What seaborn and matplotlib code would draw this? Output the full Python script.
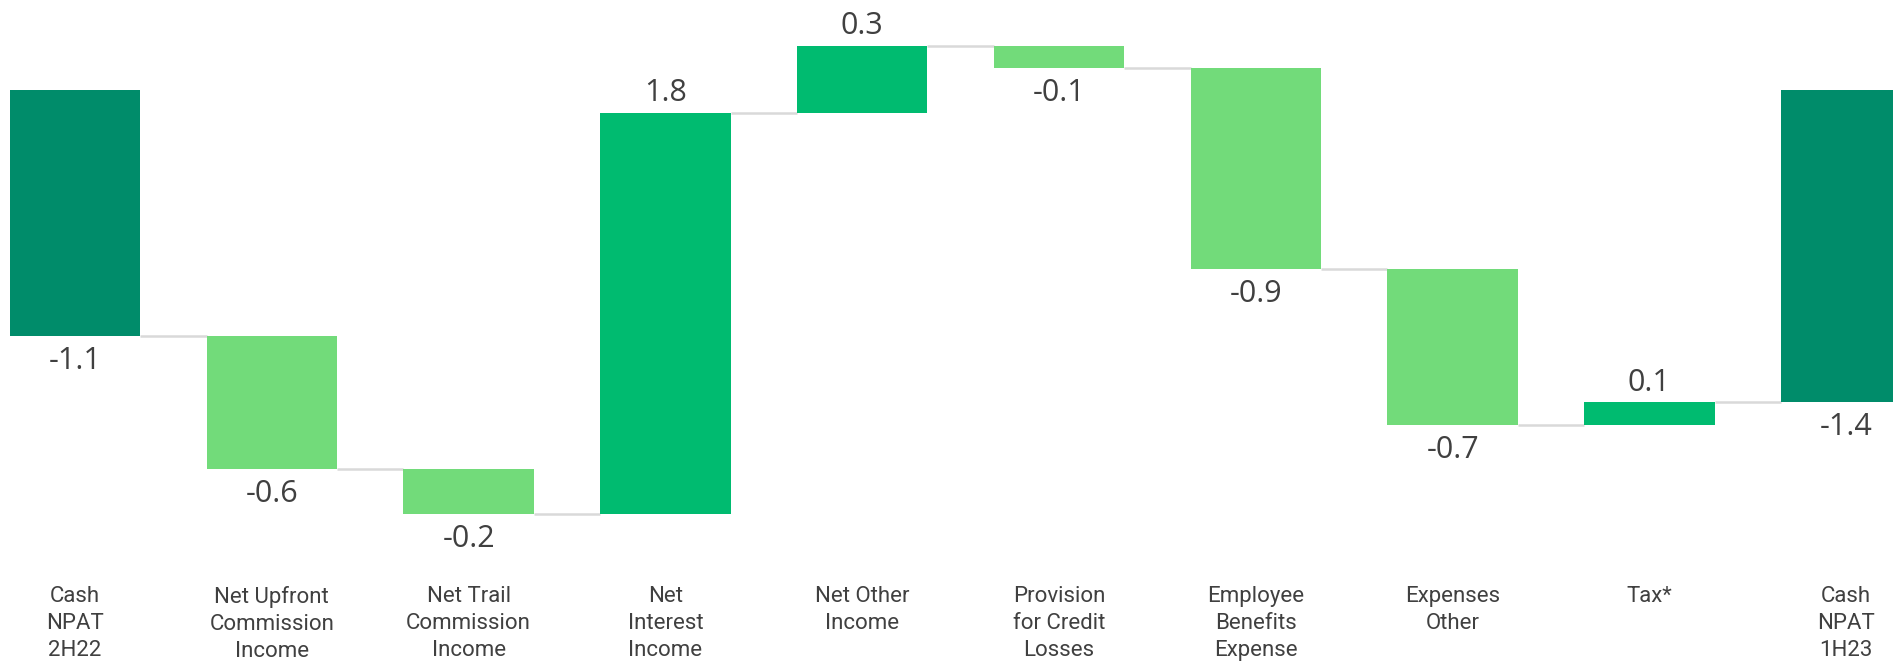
import numpy as np
import matplotlib
matplotlib.use("Agg")
import matplotlib.pyplot as plt
import seaborn as sns

categories = [
    "Cash\nNPAT\n2H22",
    "Net Upfront\nCommission\nIncome",
    "Net Trail\nCommission\nIncome",
    "Net\nInterest\nIncome",
    "Net Other\nIncome",
    "Provision\nfor Credit\nLosses",
    "Employee\nBenefits\nExpense",
    "Expenses\nOther",
    "Tax*",
    "Cash\nNPAT\n1H23",
]
values = [-1.1, -0.6, -0.2, 1.8, 0.3, -0.1, -0.9, -0.7, 0.1, -1.4]
is_total = [True, False, False, False, False, False, False, False, False, True]

c_total = "#008C6A"
c_up = "#00BB70"
c_down = "#72DB7A"
c_text = "#404040"

# floating bar bottoms from the running total
bottoms = []
running = 0.0
for v, tot in zip(values, is_total):
    if tot:
        bottoms.append(0.0)
        running = v
    else:
        bottoms.append(running)
        running += v
ends = [b + v for b, v in zip(bottoms, values)]

sns.set_style("white")
fig = plt.figure(figsize=(18.93, 6.63), dpi=100)
ax = fig.add_axes([0, 0.1327, 1, 0.8673])

sns.barplot(x=list(range(len(values))), y=values, bottom=bottoms, color=c_down,
            width=0.663, errorbar=None, ax=ax, zorder=3)

for p, v, tot in zip(ax.patches, values, is_total):
    col = c_total if tot else (c_up if v > 0 else c_down)
    p.set_facecolor(col)
    p.set_edgecolor("none")

# connectors
w = 0.663
for i in range(len(values) - 1):
    ax.plot([i + w / 2, i + 1 - w / 2], [ends[i], ends[i]], color="#D9D9D9",
            lw=1.8, zorder=2, solid_capstyle="butt")

# value labels
for i, (b, e, v) in enumerate(zip(bottoms, ends, values)):
    if v < 0:
        ax.text(i, min(b, e) - 0.045, f"{v:.1f}", ha="center", va="top",
                fontsize=22, color=c_text, family=["Open Sans", "DejaVu Sans"])
    else:
        ax.text(i, max(b, e) + 0.02, f"{v:.1f}", ha="center", va="bottom",
                fontsize=22, color=c_text, family=["Open Sans", "DejaVu Sans"])

ax.set_xlim(-0.381, 9.238)
ax.set_ylim(-2.175, 0.406)
ax.set_xticks(range(len(categories)))
ax.set_xticklabels(categories, fontsize=16, color=c_text, linespacing=1.38,
                   va="top", family=["Roboto", "DejaVu Sans"])
ax.tick_params(axis="x", length=0, pad=8)
ax.set_yticks([])
ax.set_xlabel("")
sns.despine(ax=ax, left=True, bottom=True)

fig.savefig("out.png", dpi=100)
